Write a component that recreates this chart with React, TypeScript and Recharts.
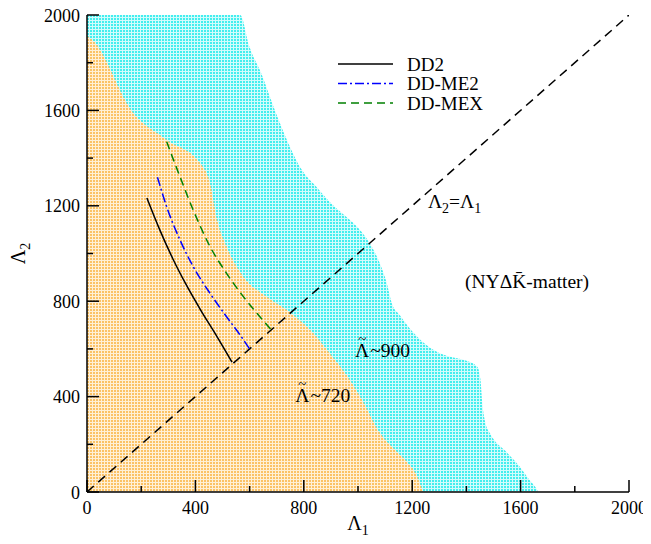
import React from 'react';
import { ComposedChart, Area, Line, XAxis, YAxis, ReferenceDot, Legend } from 'recharts';

// Boundary of the Λ̃~900 region (Λ1, Λ2)
const cyanLambda1 = [0, 565, 600, 645, 690, 740, 790, 850, 910, 950, 1010, 1050, 1080, 1105, 1125, 1155, 1203, 1266, 1330, 1400, 1440, 1452, 1458, 1470, 1490, 1550, 1598, 1630, 1655, 1665];
const cyanLambda2 = [2000, 2000, 1865, 1750, 1610, 1470, 1355, 1275, 1200, 1160, 1095, 1030, 960, 880, 790, 740, 670, 605, 570, 550, 525, 470, 380, 290, 240, 165, 105, 55, 20, 0];

// Boundary of the Λ̃~720 region
const orangeLambda1 = [0, 20, 170, 295, 417, 454, 480, 515, 577, 663, 737, 834, 915, 970, 1015, 1081, 1137, 1181, 1221, 1240];
const orangeLambda2 = [1912, 1895, 1590, 1476, 1379, 1294, 1140, 1029, 903, 819, 763, 667, 553, 470, 386, 247, 176, 126, 59, 0];

// EoS curves
const dd2Lambda1 = [221, 269, 318, 368, 420, 478, 535];
const dd2Lambda2 = [1233, 1098, 975, 865, 762, 655, 545];
const dme2Lambda1 = [260, 294, 343, 392, 454, 515, 565, 600];
const dme2Lambda2 = [1320, 1196, 1057, 945, 833, 735, 658, 600];
const dmexLambda1 = [294, 343, 392, 454, 515, 577, 638, 680];
const dmexLambda2 = [1469, 1322, 1182, 1029, 917, 819, 735, 680];

const diagLambda = [0, 2000];
const ticks = [0, 200, 400, 600, 800, 1000, 1200, 1400, 1600, 1800, 2000];

const zip = (xs: number[], ys: number[]) => xs.map((x, i) => ({ x, y: ys[i] }));
const cyanData = zip(cyanLambda1, cyanLambda2);
const orangeData = zip(orangeLambda1, orangeLambda2);
const dd2Data = zip(dd2Lambda1, dd2Lambda2);
const dme2Data = zip(dme2Lambda1, dme2Lambda2);
const dmexData = zip(dmexLambda1, dmexLambda2);
const diagData = zip(diagLambda, diagLambda);

const series = [
  { name: 'DD2', color: '#000000', dash: undefined as string | undefined, data: dd2Data },
  { name: 'DD-ME2', color: '#0000ff', dash: '9 3 2 3', data: dme2Data },
  { name: 'DD-MEX', color: '#008000', dash: '8 5', data: dmexData },
];

const isMajor = (v: number) => v % 400 === 0;

const BottomTick = (p: any) => {
  const { x, y, payload } = p;
  const major = isMajor(payload.value);
  return (
    <g>
      <line x1={x} x2={x} y1={y} y2={y - (major ? 12 : 6)} stroke="#000" strokeWidth={1.5} />
      {major && (
        <text x={x} y={y + 22} textAnchor="middle" fontSize={18} fill="#000">
          {payload.value}
        </text>
      )}
    </g>
  );
};
const TopTick = (p: any) => {
  const { x, y, payload } = p;
  const major = isMajor(payload.value);
  return <line x1={x} x2={x} y1={y} y2={y + (major ? 12 : 6)} stroke="#000" strokeWidth={1.5} />;
};
const LeftTick = (p: any) => {
  const { x, y, payload } = p;
  const major = isMajor(payload.value);
  return (
    <g>
      <line x1={x} x2={x + (major ? 12 : 6)} y1={y} y2={y} stroke="#000" strokeWidth={1.5} />
      {major && (
        <text x={x - 7} y={y + 6.5} textAnchor="end" fontSize={18} fill="#000">
          {payload.value}
        </text>
      )}
    </g>
  );
};
const RightTick = (p: any) => {
  const { x, y, payload } = p;
  const major = isMajor(payload.value);
  return <line x1={x} x2={x - (major ? 12 : 6)} y1={y} y2={y} stroke="#000" strokeWidth={1.5} />;
};

const XLabel = (p: any) => {
  const vb = p.viewBox;
  return (
    <text x={vb.x + vb.width / 2} y={vb.y + 38} textAnchor="middle" fontSize={20} fill="#000">
      Λ<tspan fontSize={14} dy={5}>1</tspan>
    </text>
  );
};
const YLabel = (p: any) => {
  const vb = p.viewBox;
  const cx = vb.x - 2;
  const cy = vb.y + vb.height / 2;
  return (
    <text x={cx} y={cy} transform={`rotate(-90, ${cx}, ${cy})`} textAnchor="middle" fontSize={20} fill="#000">
      Λ<tspan fontSize={14} dy={5}>2</tspan>
    </text>
  );
};

const noteLabel = (content: React.ReactNode) => (p: any) => {
  const vb = p.viewBox;
  return (
    <text x={vb.x} y={vb.y} fontSize={19.5} fill="#000">
      {content}
    </text>
  );
};

const tildeLambda = (rest: string) => (
  <>
    Λ<tspan dx={-11} dy={-13} fontSize={15}>~</tspan>
    <tspan dx={4} dy={13}>{rest}</tspan>
  </>
);

const renderLegend = () => (
  <svg width={170} height={80} style={{ display: 'block' }}>
    {series.map((s, i) => {
      const yy = 18 + i * 19.5;
      return (
        <g key={s.name}>
          <line x1={0} x2={55} y1={yy} y2={yy} stroke={s.color} strokeWidth={1.5} strokeDasharray={s.dash} />
          <text x={69} y={yy + 6.5} fontSize={19} fill="#000">
            {s.name}
          </text>
        </g>
      );
    })}
  </svg>
);

export default function App() {
  return (
    <div style={{ margin: -8, width: 651, height: 544 }}>
      <ComposedChart width={651} height={544} margin={{ top: 15, right: 22, bottom: 12, left: 27 }}>
        <defs>
          <pattern id="orangeP" width="3" height="3" patternUnits="userSpaceOnUse">
            <rect width="3" height="3" fill="#fff0d6" />
            <rect width="2" height="2" fill="#fbc266" />
          </pattern>
          <pattern id="cyanP" width="3" height="3" patternUnits="userSpaceOnUse">
            <rect width="3" height="3" fill="#d2fcfc" />
            <rect width="2" height="2" fill="#44eeee" />
          </pattern>
        </defs>
        <XAxis
          xAxisId={0}
          dataKey="x"
          type="number"
          domain={[0, 2000]}
          ticks={ticks}
          interval={0}
          allowDataOverflow
          height={40}
          tickSize={0}
          tickMargin={0}
          tick={BottomTick}
          tickLine={false}
          axisLine={{ stroke: '#000', strokeWidth: 1.5 }}
          label={{ content: XLabel }}
        />
        <XAxis
          xAxisId="top"
          orientation="top"
          type="number"
          domain={[0, 2000]}
          ticks={ticks}
          interval={0}
          allowDataOverflow
          height={0}
          tickSize={0}
          tickMargin={0}
          tick={TopTick}
          tickLine={false}
          axisLine={{ stroke: '#000', strokeWidth: 1.5 }}
        />
        <YAxis
          yAxisId={0}
          type="number"
          domain={[0, 2000]}
          ticks={ticks}
          interval={0}
          allowDataOverflow
          width={60}
          tickSize={0}
          tickMargin={0}
          tick={LeftTick}
          tickLine={false}
          axisLine={{ stroke: '#000', strokeWidth: 1.5 }}
          label={{ content: YLabel }}
        />
        <YAxis
          yAxisId="right"
          orientation="right"
          type="number"
          domain={[0, 2000]}
          ticks={ticks}
          interval={0}
          allowDataOverflow
          width={0}
          tickSize={0}
          tickMargin={0}
          tick={RightTick}
          tickLine={false}
          axisLine={{ stroke: '#000', strokeWidth: 1.5 }}
        />
        <Area data={cyanData} dataKey="y" type="monotone" fill="url(#cyanP)" fillOpacity={1} stroke="none" isAnimationActive={false} legendType="none" dot={false} activeDot={false} />
        <Area data={orangeData} dataKey="y" type="monotone" fill="url(#orangeP)" fillOpacity={1} stroke="none" isAnimationActive={false} legendType="none" dot={false} activeDot={false} />
        <Line data={diagData} dataKey="y" type="linear" stroke="#000" strokeWidth={1.5} strokeDasharray="9 6" dot={false} activeDot={false} isAnimationActive={false} legendType="none" />
        {series.map((s) => (
          <Line
            key={s.name}
            name={s.name}
            data={s.data}
            dataKey="y"
            type="monotone"
            stroke={s.color}
            strokeWidth={1.5}
            strokeDasharray={s.dash}
            dot={false}
            activeDot={false}
            isAnimationActive={false}
          />
        ))}
        <ReferenceDot x={1258} y={1191} r={0} stroke="none" fill="none" label={{ content: noteLabel(<>Λ<tspan fontSize={14} dy={5}>2</tspan><tspan dy={-5}>=Λ</tspan><tspan fontSize={14} dy={5}>1</tspan></>) }} />
        <ReferenceDot x={1395} y={855} r={0} stroke="none" fill="none" label={{ content: noteLabel('(NYΔK\u0304-matter)') }} />
        <ReferenceDot x={989} y={566} r={0} stroke="none" fill="none" label={{ content: noteLabel(tildeLambda('~900')) }} />
        <ReferenceDot x={768} y={377} r={0} stroke="none" fill="none" label={{ content: noteLabel(tildeLambda('~720')) }} />
        <Legend layout="vertical" align="center" verticalAlign="middle" content={renderLegend} wrapperStyle={{ left: 338, top: 46, width: 170, height: 80 }} />
      </ComposedChart>
    </div>
  );
}
